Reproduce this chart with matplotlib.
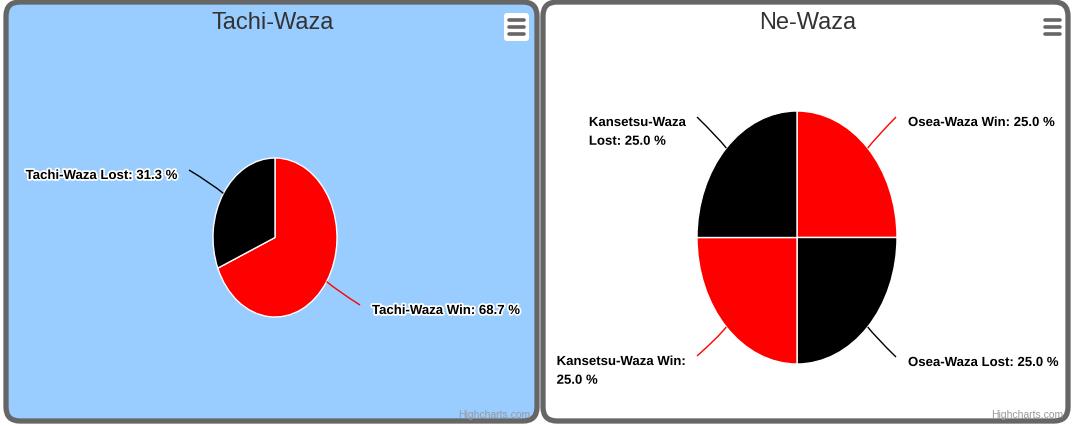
import textwrap
import numpy as np
import matplotlib
matplotlib.use("Agg")
import matplotlib.pyplot as plt
from matplotlib.patches import FancyBboxPatch, PathPatch
from matplotlib.path import Path
import matplotlib.patheffects as pe

# data
tachi_names = ["Tachi-Waza Win", "Tachi-Waza Lost"]
tachi_values = [68.7, 31.3]
tachi_colors = ["#FF0000", "#000000"]

ne_names = ["Osea-Waza Win", "Osea-Waza Lost", "Kansetsu-Waza Win", "Kansetsu-Waza Lost"]
ne_values = [25.0, 25.0, 25.0, 25.0]
ne_colors = ["#FF0000", "#000000", "#FF0000", "#000000"]

W, H = 1073, 427
plt.rcParams["font.family"] = ["Liberation Sans", "DejaVu Sans"]

fig = plt.figure(figsize=(W / 100, H / 100), dpi=100)

bg = fig.add_axes([0, 0, 1, 1], zorder=0)
bg.set_xlim(0, W)
bg.set_ylim(H, 0)
bg.axis("off")

# panels
for x0, x1, fc in [(6, 537, "#99CCFF"), (543, 1068, "#FFFFFF")]:
    bg.add_patch(FancyBboxPatch((x0, 3), x1 - x0, 419,
                                boxstyle="round,pad=0,rounding_size=14",
                                fc=fc, ec="#666666", lw=3.8))

fg = fig.add_axes([0, 0, 1, 1], zorder=5)
fg.set_xlim(0, W)
fg.set_ylim(H, 0)
fg.axis("off")
fg.patch.set_alpha(0)


def pie_axes(left, top, right, bottom):
    return fig.add_axes([left / W, 1 - bottom / H, (right - left) / W, (bottom - top) / H], zorder=2)


def draw_pie(ax, values, colors, names, anchors, wrap_left=False):
    wedges, _ = ax.pie(values, colors=colors, startangle=90, counterclock=False,
                       wedgeprops=dict(edgecolor="white", linewidth=1))
    ax.set_aspect("auto")
    ax.set_xlim(-1, 1)
    ax.set_ylim(-1, 1)
    inv = fg.transData.inverted()
    cx, cy = inv.transform(ax.transData.transform((0, 0)))
    for w, v, name, col, (px, py) in zip(wedges, values, names, colors, anchors):
        mid = np.deg2rad((w.theta1 + w.theta2) / 2)
        ex, ey = inv.transform(ax.transData.transform((np.cos(mid), np.sin(mid))))
        dx, dy = ex - cx, ey - cy
        n = np.hypot(dx, dy)
        ctrl = (ex + dx / n * 14, ey + dy / n * 14)
        left_side = px < cx
        path = Path([(ex, ey), ctrl, (px, py)], [Path.MOVETO, Path.CURVE3, Path.CURVE3])
        fg.add_patch(PathPatch(path, fc="none", ec=col, lw=1))
        label = f"{name}: {v:.1f} %"
        if wrap_left and left_side:
            label = textwrap.fill(label, 18)
        if left_side:
            tx, ha = px - 11, "right"
        else:
            tx, ha = px + 12, "left"
        t = fg.text(tx, py, label, ha=ha, va="top",
                    fontsize=9.5, fontweight="bold", color="#000000",
                    multialignment="left", linespacing=1.75)
        t.set_path_effects([pe.withStroke(linewidth=2.5, foreground="white")])


ax1 = pie_axes(213, 159, 337, 318)
draw_pie(ax1, tachi_values, tachi_colors, tachi_names, [(360, 306), (189, 171)])

ax2 = pie_axes(697, 112, 897, 365)
draw_pie(ax2, ne_values, ne_colors, ne_names,
         [(896, 118), (896, 358), (697, 357), (697, 118)], wrap_left=True)

# titles
fg.text(273, 23, "Tachi-Waza", ha="center", va="center", fontsize=17, color="#333333")
fg.text(808, 23, "Ne-Waza", ha="center", va="center", fontsize=17, color="#333333")

# menu buttons
fg.add_patch(FancyBboxPatch((504, 14), 25, 28, boxstyle="round,pad=0,rounding_size=3",
                            fc="white", ec="none"))
for mx in (509, 1045):
    for my in (21, 28, 35):
        fg.plot([mx, mx + 15], [my, my], color="#666666", lw=2.6, solid_capstyle="round")

# credits
fg.text(530, 415, "Highcharts.com", ha="right", va="center", fontsize=7.5, color="#999999")
fg.text(1063, 415, "Highcharts.com", ha="right", va="center", fontsize=7.5, color="#999999")

fig.savefig("out.png", dpi=100)
